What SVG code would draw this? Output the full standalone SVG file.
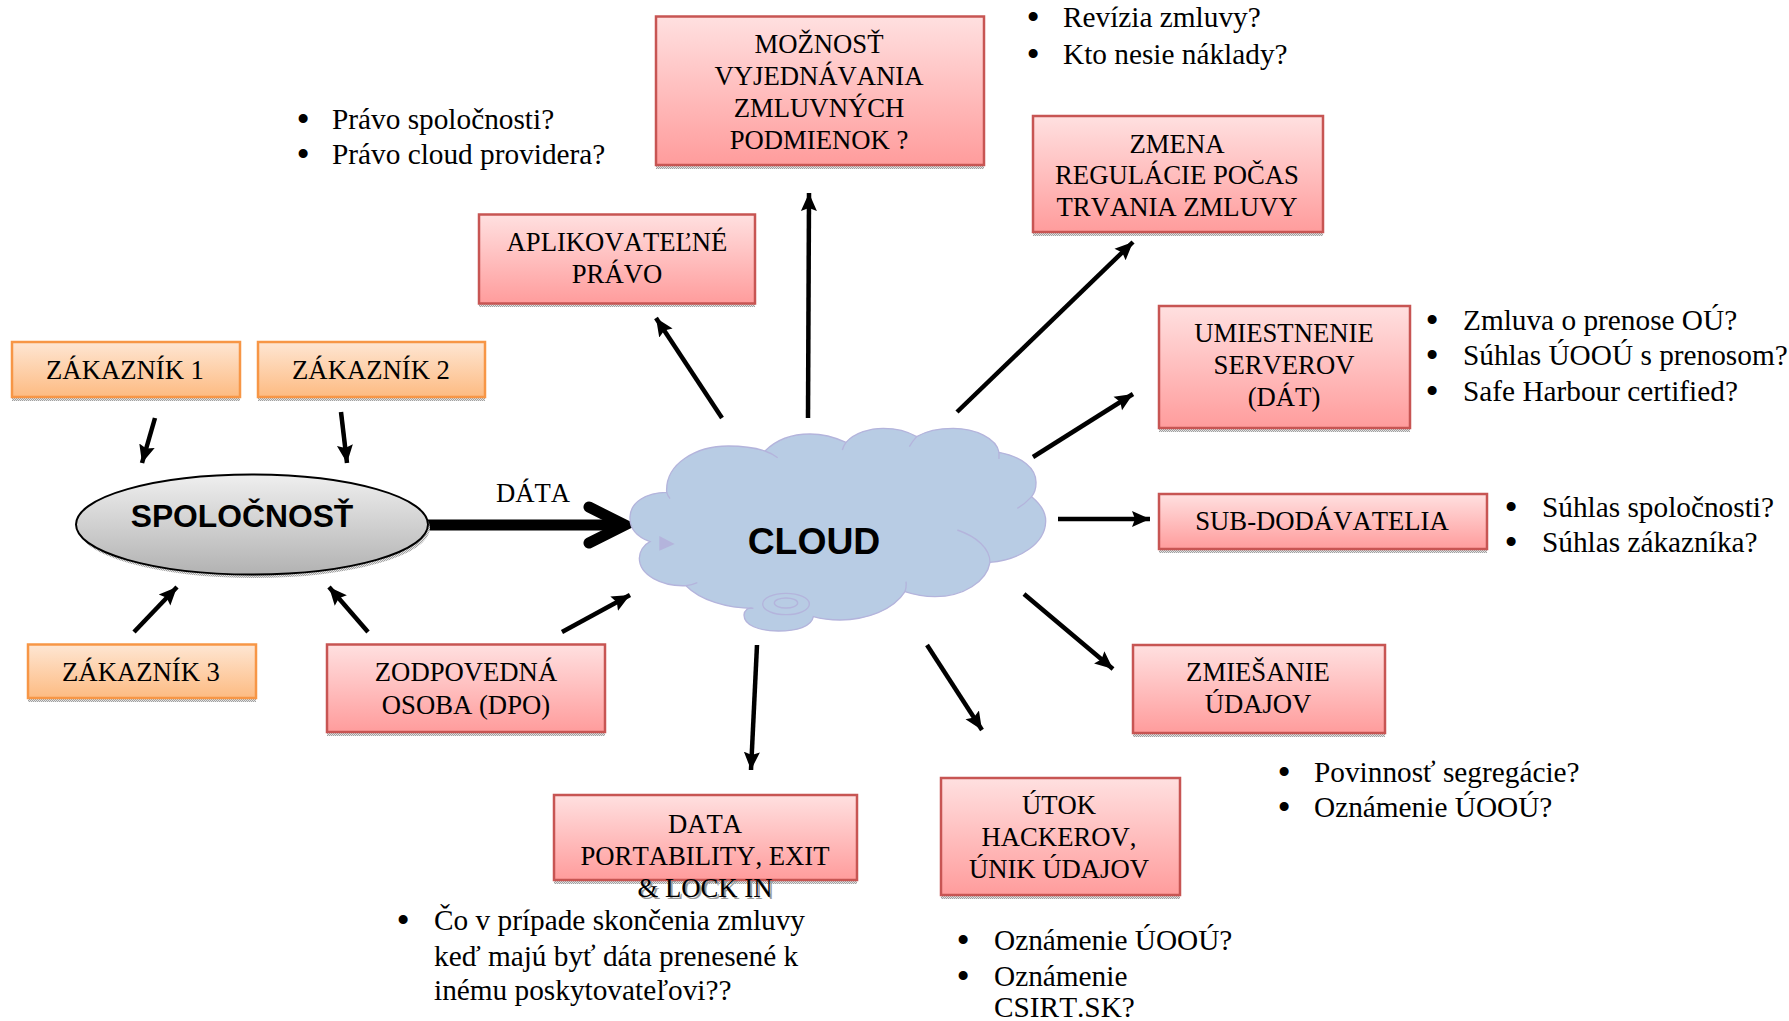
<svg xmlns="http://www.w3.org/2000/svg" width="1789" height="1021" viewBox="0 0 1789 1021">
<style>
text{font-family:"Liberation Serif","Times New Roman",serif;font-size:26.7px;fill:#000;font-kerning:none}
.c{text-anchor:middle}
.n{font-size:29.3px}
.d{stroke:#000;stroke-width:2}
.red{fill:url(#gr);stroke:#c75553;stroke-width:2.500}
.or{fill:url(#go);stroke:#f79646;stroke-width:2.500}
.sh{fill:url(#dither)}
.ar{stroke:#000;stroke-width:4.500;fill:none;marker-end:url(#ah)}
.cl{fill:#b8cce4;stroke:#b4b4dc;stroke-width:4}
.cli{fill:none;stroke:#b4b4dc;stroke-width:4}
.b{font-family:"Liberation Sans",Arial,sans-serif;font-weight:bold}
.lock{fill:#999}
</style>
<defs>
<linearGradient id="gr" x1="0" y1="0" x2="0" y2="1"><stop offset="0" stop-color="#ffe0e0"/><stop offset="1" stop-color="#ff9c9c"/></linearGradient>
<linearGradient id="go" x1="0" y1="0" x2="0" y2="1"><stop offset="0" stop-color="#fee6d3"/><stop offset="1" stop-color="#fdbb82"/></linearGradient>
<linearGradient id="gg" x1="0" y1="0" x2="0" y2="1"><stop offset="0" stop-color="#efefef"/><stop offset="1" stop-color="#b2b2b2"/></linearGradient>
<pattern id="dither" width="2" height="2" patternUnits="userSpaceOnUse"><rect width="2" height="2" fill="#e4e4e4"/><rect width="1" height="1" fill="#a0a0a0"/><rect x="1" y="1" width="1" height="1" fill="#a0a0a0"/></pattern>
<marker id="ah" markerUnits="userSpaceOnUse" markerWidth="20" markerHeight="18" refX="18" refY="8" orient="auto" viewBox="0 0 20 16"><path d="M0 0L18 8L0 16L3 8Z" fill="#000"/></marker>
</defs>

<g id="connectors">
<line class="ar" x1="155" y1="418" x2="142" y2="463"/>
<line class="ar" x1="341" y1="412" x2="347" y2="463"/>
<line class="ar" x1="134" y1="632" x2="177" y2="587"/>
<line class="ar" x1="368" y1="632" x2="329" y2="587"/>
<line class="ar" x1="562" y1="632" x2="630" y2="595"/>
<line class="ar" x1="722" y1="418" x2="656" y2="318"/>
<line class="ar" x1="808" y1="418" x2="809" y2="193"/>
<line class="ar" x1="957" y1="412" x2="1133" y2="242"/>
<line class="ar" x1="1033" y1="457" x2="1133" y2="394"/>
<line class="ar" x1="1058" y1="519" x2="1150" y2="519"/>
<line class="ar" x1="1024" y1="594" x2="1113" y2="669"/>
<line class="ar" x1="927" y1="645" x2="982" y2="730"/>
<line class="ar" x1="757" y1="645" x2="751" y2="770"/>
<path d="M428 525H624" stroke="#000" stroke-width="11" fill="none"/>
<path d="M589 507L625 525L589 543" stroke="#000" stroke-width="11" fill="none" stroke-linecap="round" stroke-linejoin="miter"/>
</g>

<g id="cloud">
<g transform="translate(600 400) scale(.33333)">
<path class="cl" d="M150 425C110 410 88 385 90 350C92 305 140 278 200 277C195 190 290 138 385 138C425 138 465 143 495 153C530 118 580 102 630 102C670 102 705 112 738 127C765 98 810 85 850 85C890 85 925 95 950 110C980 92 1020 85 1060 85C1125 85 1190 115 1197 157C1265 170 1310 205 1308 250C1308 265 1303 280 1295 290C1325 315 1338 340 1337 365C1335 430 1260 480 1170 487C1160 545 1090 590 1005 590C975 590 945 585 915 575C880 630 800 660 720 660C695 660 665 657 640 650C635 680 590 693 535 693C475 693 432 675 432 645C432 632 445 620 460 625C380 625 300 600 258 557C185 560 118 525 118 475C118 455 130 435 150 425Z"/>
<path class="cli" d="M200 277Q203 287 210 296M495 153Q515 160 533 173M738 127Q730 138 727 150M950 110Q938 123 928 140M1197 157V177M1295 290Q1275 312 1252 325M1072 390C1130 410 1170 445 1170 487M918 545Q920 560 915 575M258 557Q275 555 292 548"/>
<path d="M178 408L224 432L178 452Z" fill="#b4b4dc"/>
<ellipse class="cl" cx="558" cy="612" rx="70" ry="32"/>
<ellipse class="cli" cx="558" cy="609" rx="35" ry="15"/>
</g>
<text class="c b" x="814" y="554" style="font-size:37.300px">CLOUD</text>
</g>

<g id="spolocnost">
<ellipse cx="254" cy="528" rx="176" ry="50" fill="url(#dither)"/>
<ellipse cx="252" cy="524.500" rx="176" ry="50" fill="url(#gg)" stroke="#000" stroke-width="2"/>
<text class="c b" x="242" y="527" style="font-size:31.800px">SPOLOČNOSŤ</text>
</g>

<g id="label-data"><text class="c" x="533" y="502">DÁTA</text></g>

<g id="zakaznik1"><rect class="sh" x="12" y="346" width="228" height="55"/><rect class="or" x="12" y="342" width="228" height="55"/><text class="c" x="125" y="379">ZÁKAZNÍK 1</text></g>
<g id="zakaznik2"><rect class="sh" x="258" y="346" width="227" height="55"/><rect class="or" x="258" y="342" width="227" height="55"/><text class="c" x="371" y="379">ZÁKAZNÍK 2</text></g>
<g id="zakaznik3"><rect class="sh" x="28" y="648" width="228" height="54"/><rect class="or" x="28" y="644.500" width="228" height="53.500"/><text class="c" x="141" y="681">ZÁKAZNÍK 3</text></g>

<g id="dpo"><rect class="sh" x="327" y="648" width="278" height="88"/><rect class="red" x="327" y="644.500" width="278" height="87.500"/><text class="c" x="466" y="681">ZODPOVEDNÁ</text><text class="c" x="466" y="714">OSOBA (DPO)</text></g>

<g id="aplikovatelne"><rect class="sh" x="479" y="218" width="276" height="89"/><rect class="red" x="479" y="214.500" width="276" height="89"/><text class="c" x="617" y="251">APLIKOVATEĽNÉ</text><text class="c" x="617" y="283">PRÁVO</text></g>

<g id="moznost"><rect class="sh" x="656" y="20" width="328" height="149"/><rect class="red" x="656" y="16.500" width="328" height="148.500"/><text class="c" x="819" y="53">MOŽNOSŤ</text><text class="c" x="819" y="85">VYJEDNÁVANIA</text><text class="c" x="819" y="117">ZMLUVNÝCH</text><text class="c" x="819" y="149">PODMIENOK ?</text></g>

<g id="zmena"><rect class="sh" x="1033" y="120" width="290" height="116"/><rect class="red" x="1033" y="116" width="290" height="116"/><text class="c" x="1177" y="153">ZMENA</text><text class="c" x="1177" y="184">REGULÁCIE POČAS</text><text class="c" x="1177" y="216">TRVANIA ZMLUVY</text></g>

<g id="umiestnenie"><rect class="sh" x="1159" y="310" width="251" height="122"/><rect class="red" x="1159" y="306" width="251" height="122"/><text class="c" x="1284" y="342">UMIESTNENIE</text><text class="c" x="1284" y="374">SERVEROV</text><text class="c" x="1284" y="406">(DÁT)</text></g>

<g id="subdodavatelia"><rect class="sh" x="1159" y="498" width="328" height="55"/><rect class="red" x="1159" y="494" width="328" height="55"/><text class="c" x="1322" y="530">SUB-DODÁVATELIA</text></g>

<g id="zmiesanie"><rect class="sh" x="1133" y="649" width="252" height="88"/><rect class="red" x="1133" y="645" width="252" height="88"/><text class="c" x="1258" y="681">ZMIEŠANIE</text><text class="c" x="1258" y="713">ÚDAJOV</text></g>

<g id="utok"><rect class="sh" x="941" y="782" width="239" height="117"/><rect class="red" x="941" y="778" width="239" height="117"/><text class="c" x="1059" y="814">ÚTOK</text><text class="c" x="1059" y="846">HACKEROV,</text><text class="c" x="1059" y="878">ÚNIK ÚDAJOV</text></g>

<g id="portability"><rect class="sh" x="554" y="799" width="303" height="85"/><rect class="red" x="554" y="795" width="303" height="85"/><text class="c" x="705" y="833">DATA</text><text class="c" x="705" y="865">PORTABILITY, EXIT</text><text class="c lock" x="707" y="899">&amp; LOCK IN</text><text class="c" x="705" y="897">&amp; LOCK IN</text></g>

<g id="notes-pravo"><text class="n d" x="298" y="129">•</text><text class="n" x="332" y="129">Právo spoločnosti?</text><text class="n d" x="298" y="164">•</text><text class="n" x="332" y="164">Právo cloud providera?</text></g>
<g id="notes-revizia"><text class="n d" x="1028" y="27">•</text><text class="n" x="1063" y="27">Revízia zmluvy?</text><text class="n d" x="1028" y="64">•</text><text class="n" x="1063" y="64">Kto nesie náklady?</text></g>
<g id="notes-umiestnenie"><text class="n d" x="1427" y="330">•</text><text class="n" x="1463" y="330">Zmluva o prenose OÚ?</text><text class="n d" x="1427" y="365">•</text><text class="n" x="1463" y="365">Súhlas ÚOOÚ s prenosom?</text><text class="n d" x="1427" y="401">•</text><text class="n" x="1463" y="401">Safe Harbour certified?</text></g>
<g id="notes-sub"><text class="n d" x="1506" y="517">•</text><text class="n" x="1542" y="517">Súhlas spoločnosti?</text><text class="n d" x="1506" y="552">•</text><text class="n" x="1542" y="552">Súhlas zákazníka?</text></g>
<g id="notes-zmiesanie"><text class="n d" x="1279" y="782">•</text><text class="n" x="1314" y="782">Povinnosť segregácie?</text><text class="n d" x="1279" y="817">•</text><text class="n" x="1314" y="817">Oznámenie ÚOOÚ?</text></g>
<g id="notes-utok"><text class="n d" x="958" y="950">•</text><text class="n" x="994" y="950">Oznámenie ÚOOÚ?</text><text class="n d" x="958" y="986">•</text><text class="n" x="994" y="986">Oznámenie</text><text class="n" x="994" y="1017">CSIRT.SK?</text></g>
<g id="notes-portability"><text class="n d" x="398" y="930">•</text><text class="n" x="434" y="930">Čo v prípade skončenia zmluvy</text><text class="n" x="434" y="966">keď majú byť dáta prenesené k</text><text class="n" x="434" y="1000">inému poskytovateľovi??</text></g>
</svg>
